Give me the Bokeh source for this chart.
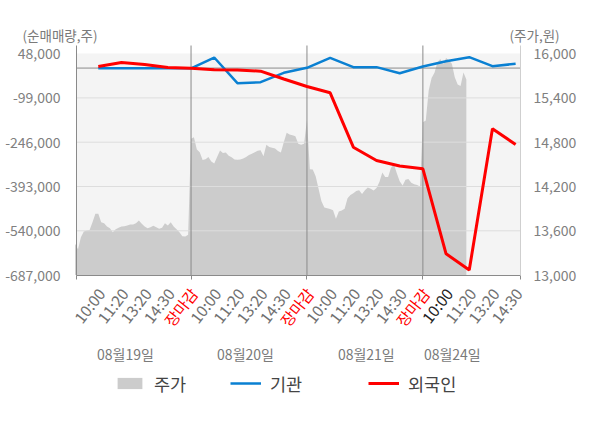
import numpy as np
from bokeh.plotting import figure
from bokeh.models import (Range1d, LinearAxis, FixedTicker, NumeralTickFormatter,
                          Label, Legend, LegendItem, CustomJSTickFormatter)
from bokeh.embed import file_html
from bokeh.resources import INLINE

FONT = "Noto Sans CJK KR"

day_labels = ["08월19일", "08월20일", "08월21일", "08월24일"]
slot_labels = ["10:00", "11:20", "13:20", "14:30", "장마감"]

left_ticks = [48000, -99000, -246000, -393000, -540000, -687000]
right_ticks = [13000, 13600, 14200, 14800, 15400, 16000]

# 기관 (institution) net trading volume at each time slot
inst_day1 = [-1000, -1000, -1000, -1000, -1000]
inst_day2 = [35000, -50200, -46900, -15700, 900]
inst_day3 = [34000, 2900, 3000, -17000, 5200]
inst_day4 = [22800, 36100, 6200, 14200]

# 외국인 (foreign) net trading volume at each time slot
foreign_day1 = [5200, 18500, 11800, 2000, -500]
foreign_day2 = [-5400, -6400, -10400, -36300, -61200]
foreign_day3 = [-82100, -262600, -306700, -325000, -334300]
foreign_day4 = [-616300, -670000, -201500, -253600]

# 주가 (price), intraday samples (40 per full day)
price_day1 = [13424, 13350, 13513, 13590, 13604, 13610, 13716, 13830, 13830, 13716,
              13703, 13658, 13635, 13581, 13622, 13640, 13658, 13663, 13672, 13685,
              13685, 13703, 13739, 13694, 13658, 13635, 13649, 13667, 13649, 13627,
              13640, 13703, 13672, 13716, 13658, 13622, 13581, 13527, 13522, 13545]
price_day2 = [14846, 14867, 14700, 14664, 14560, 14570, 14600, 14540, 14510, 14600,
              14687, 14655, 14660, 14615, 14596, 14565, 14561, 14565, 14578, 14600,
              14625, 14645, 14664, 14685, 14690, 14610, 14765, 14735, 14725, 14715,
              14680, 14660, 14800, 14927, 14905, 14893, 14880, 14778, 14765, 14778]
price_day3 = [15100, 14435, 14430, 14340, 14168, 14000, 13915, 13905, 13895, 13880,
              13762, 13860, 13875, 13900, 14040, 14085, 14110, 14140, 14150, 14100,
              14150, 14185, 14170, 14145, 14180, 14260, 14390, 14330, 14330, 14455,
              14500, 14380, 14270, 14213, 14290, 14300, 14250, 14230, 14220, 14200]
price_day4 = [15070, 15093, 15500, 15670, 15740, 15880, 15928, 15855, 15940, 15906,
              15861, 15680, 15580, 15560, 15745, 15650]

SLOTS = len(slot_labels)
SAMPLES = 40

inst_days = [inst_day1, inst_day2, inst_day3, inst_day4]
foreign_days = [foreign_day1, foreign_day2, foreign_day3, foreign_day4]
price_days = [price_day1, price_day2, price_day3, price_day4]

line_x, inst_y, foreign_y = [], [], []
for d, (iv, fv) in enumerate(zip(inst_days, foreign_days)):
    for k in range(len(iv)):
        line_x.append(d * SLOTS + k + 1)
        inst_y.append(iv[k])
        foreign_y.append(fv[k])

price_x, price_y = [], []
for d, pv in enumerate(price_days):
    for i, v in enumerate(pv):
        price_x.append(d * SLOTS + i * SLOTS / SAMPLES)
        price_y.append(v)

# ---- layout: canvas size and where the plotting region sits (pixels) ----
W, H = 584, 412
PL, PR, PT, PB = 76.0, 520.0, 45.0, 274.6       # plot region edges
X0, X1 = 0.06, 19.21                             # x extent of the plot region
Y_TOP_TICK_PX = 53.1                             # pixel row of the top tick

sx = (PR - PL) / (X1 - X0)
x_lo = X0 - PL / sx
x_hi = X1 + (W - PR) / sx

ly_per_px = (left_ticks[0] - left_ticks[-1]) / (PB - Y_TOP_TICK_PX)
ly_lo = left_ticks[-1] - (H - PB) * ly_per_px
ly_hi = left_ticks[-1] + PB * ly_per_px
ly_top = left_ticks[-1] + (PB - PT) * ly_per_px

ry_per_px = (right_ticks[-1] - right_ticks[0]) / (PB - Y_TOP_TICK_PX)
ry_lo = right_ticks[0] - (H - PB) * ry_per_px
ry_hi = right_ticks[0] + PB * ry_per_px
ry_top = right_ticks[0] + (PB - PT) * ry_per_px

p = figure(width=W, height=H, output_backend="svg", toolbar_location=None,
           x_range=Range1d(x_lo, x_hi), y_range=Range1d(ly_lo, ly_hi),
           min_border=0, min_border_left=0, min_border_right=0,
           min_border_top=0, min_border_bottom=0,
           background_fill_color="white", border_fill_color="white", outline_line_color=None)
p.extra_y_ranges = {"price": Range1d(ry_lo, ry_hi)}
p.xgrid.visible = False
p.ygrid.visible = False

# plot band
p.quad(left=X0, right=X1, top=left_ticks[0], bottom=left_ticks[-1],
       fill_color="#f4f4f4", line_color=None, level="image")

area = p.varea(x=price_x, y1=right_ticks[0], y2=price_y, y_range_name="price",
               fill_color="#cccccc", level="image")

# horizontal grid lines at the left-axis ticks
p.segment(x0=X0, x1=X1, y0=left_ticks[1:-1], y1=left_ticks[1:-1],
          line_color="#dddddd", line_width=1, level="underlay")
# zero line
p.segment(x0=[X0], x1=[X1], y0=[0], y1=[0], line_color="#8a8a8a", line_width=1, level="underlay")
# day separators
day_bounds = [d * SLOTS for d in range(1, len(day_labels))]
p.segment(x0=day_bounds, x1=day_bounds, y0=left_ticks[-1], y1=ly_top,
          line_color="#8a8a8a", line_width=1, level="underlay")

inst_r = p.line(line_x, inst_y, line_color="#0a80d2", line_width=2.5)
for_r = p.line(line_x, foreign_y, line_color="#ff0000", line_width=3)

# axes (fixed inside the canvas)
yl = p.yaxis[0]
yl.fixed_location = X0
yl.bounds = (left_ticks[-1], ly_top)
yl.ticker = FixedTicker(ticks=left_ticks)
yl.formatter = NumeralTickFormatter(format="0,0")
yl.major_tick_line_color = None
yl.minor_tick_line_color = None
yl.axis_line_color = "#8a8a8a"
yl.major_label_text_font = FONT
yl.major_label_text_font_size = "14px"
yl.major_label_text_color = "#808080"
yl.major_label_standoff = 10

yr = LinearAxis(y_range_name="price", ticker=FixedTicker(ticks=right_ticks),
                formatter=NumeralTickFormatter(format="0,0"),
                fixed_location=X1, bounds=(right_ticks[0], ry_top))
yr.major_tick_line_color = None
yr.minor_tick_line_color = None
yr.axis_line_color = "#cfcfcf"
yr.major_label_text_font = FONT
yr.major_label_text_font_size = "14px"
yr.major_label_text_color = "#808080"
yr.major_label_standoff = 7
p.add_layout(yr, "right")

xa = p.xaxis[0]
xa.fixed_location = left_ticks[-1]
xa.bounds = (X0, X1)
xa.ticker = FixedTicker(ticks=[X0] + day_bounds + [X1])
xa.formatter = CustomJSTickFormatter(code="return ''")
xa.axis_line_color = "#8a8a8a"
xa.major_tick_line_color = "#8a8a8a"
xa.major_tick_in = 0
xa.major_tick_out = 4
xa.minor_tick_line_color = None

# tick labels (screen y measured from the canvas bottom)
for d in range(len(day_labels)):
    n = len(inst_days[d])
    for k in range(n):
        txt = slot_labels[k]
        color = "#707070"
        if txt == "장마감":
            color = "#ff0000"
        elif d == len(day_labels) - 1 and k == 0:
            color = "#222222"
        p.add_layout(Label(x=d * SLOTS + k + 1, y=H - 289.5, x_units="data", y_units="screen",
                           text=txt, angle=52, angle_units="deg", text_align="right",
                           text_baseline="middle", x_offset=2.5, text_font=FONT,
                           text_font_size="15.5px", text_color=color))

date_pos = [2.17, 7.35, 12.56, 16.27]
for xpos, txt in zip(date_pos, day_labels):
    p.add_layout(Label(x=xpos, y=H - 353, x_units="data", y_units="screen", text=txt,
                       text_align="center", text_baseline="middle", text_font=FONT,
                       text_font_size="14px", text_color="#7a7a7a"))

p.add_layout(Label(x=22, y=H - 34.5, x_units="screen", y_units="screen", text="(순매매량,주)",
                   text_align="left", text_baseline="middle", text_font=FONT,
                   text_font_size="13.5px", text_color="#7a7a7a"))
p.add_layout(Label(x=509, y=H - 34.5, x_units="screen", y_units="screen", text="(주가,원)",
                   text_align="left", text_baseline="middle", text_font=FONT,
                   text_font_size="13.5px", text_color="#7a7a7a"))

legend_specs = [("주가", area, 114), ("기관", inst_r, 230), ("외국인", for_r, 368)]
for name, rend, lx in legend_specs:
    lg = Legend(items=[LegendItem(label=name, renderers=[rend])],
                location=(lx, H - 395.5), orientation="horizontal",
                glyph_width=31, glyph_height=14, label_height=20,
                label_standoff=9, padding=0, margin=0,
                border_line_color=None, background_fill_alpha=0,
                label_text_font=FONT, label_text_font_size="17.5px",
                label_text_color="#444444")
    p.add_layout(lg)

open("out.html", "w").write(file_html(p, INLINE))
